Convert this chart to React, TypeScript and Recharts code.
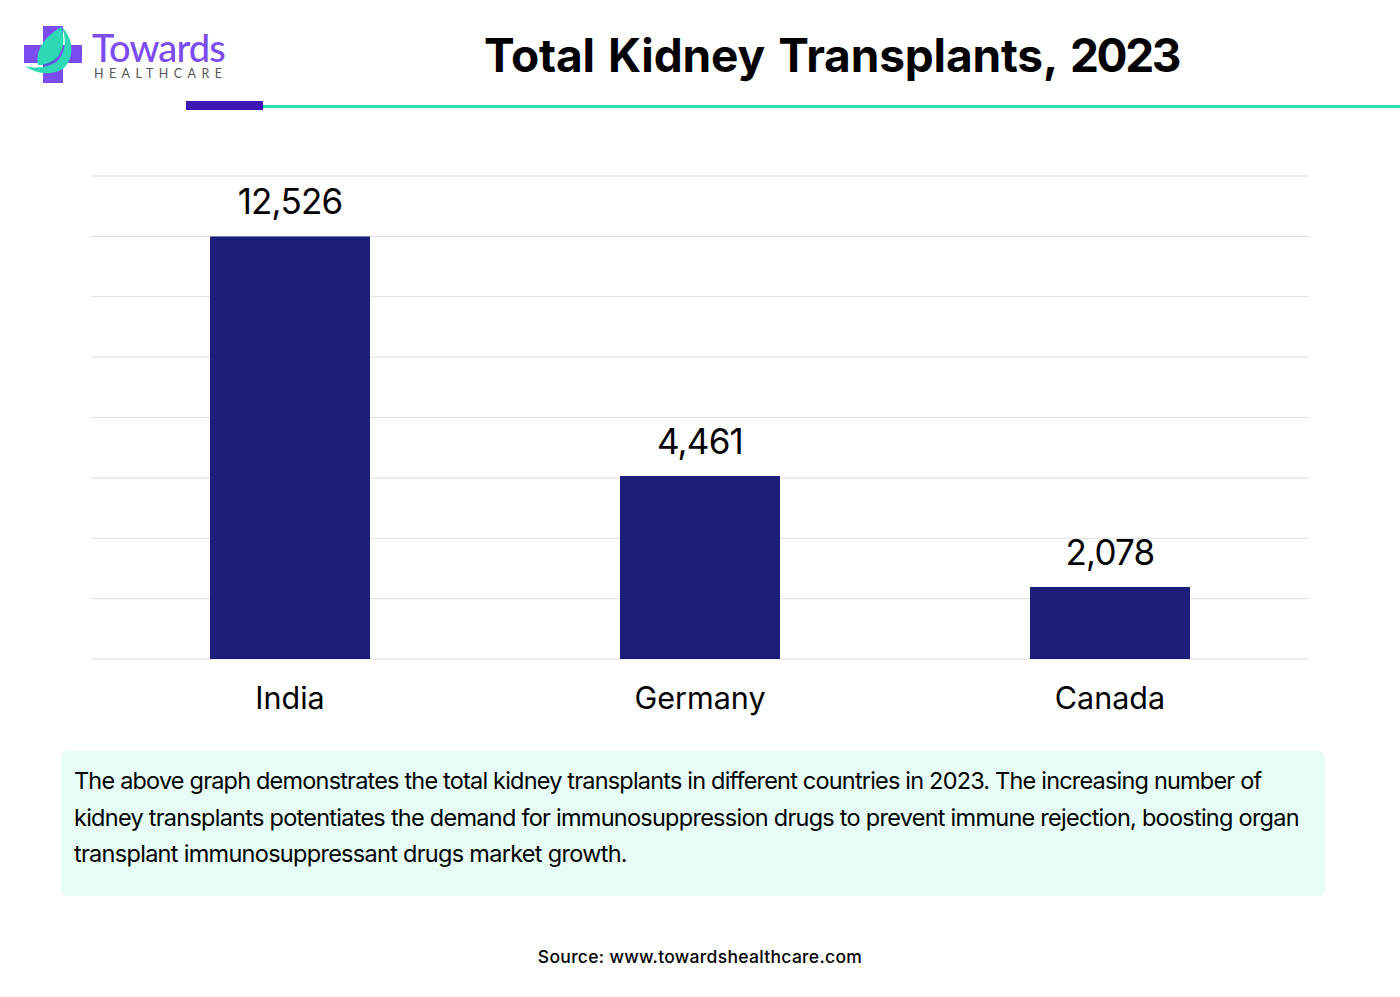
import React from "react";
import { Bar, BarChart, CartesianGrid, LabelList, XAxis, YAxis } from "recharts";

const countries = ["India", "Germany", "Canada"];
// printed values on the chart
const valueLabels = ["12,526", "4,461", "2,078"];
// the drawn bars are not in proportion to the printed values, so heights are read off the gridlines
const barHeights = [14000, 6060, 2385];
const gridTicks = [0, 2000, 4000, 6000, 8000, 10000, 12000, 14000, 16000];

const data = countries.map((name, i) => ({
  name,
  height: barHeights[i],
  label: valueLabels[i],
}));

const noteLines = [
  "The above graph demonstrates the total kidney transplants in different countries in 2023. The increasing number of",
  "kidney transplants potentiates the demand for immunosuppression drugs to prevent immune rejection, boosting organ",
  "transplant immunosuppressant drugs market growth.",
];
const noteSpacing = [-0.81, -0.74, -0.71];

const font = "Inter, Roboto, sans-serif";

function Logo() {
  return (
    <svg width={240} height={80} style={{ position: "absolute", left: 0, top: 10 }}>
      <path d="M43 16h20v19h19v18H63v20H43V53H24V35h19z" fill="#7B4DF0" />
      <path d="M62 17c12 12 12 30 3 40-9 8-26 9-40 -1 10 3 28 2 35-8 6-9 6-20 2-31z" fill="#2FD9B5" />
      <path d="M61 17c4 11 3 22-3 30-5 6-12 8-20 8-3-14 6-28 23-38z" fill="#2FD9B5" />
      <path d="M61 37c0 8-6 15-20 18 10 1 17-3 20-18z" fill="#3F6FC0" />
      <text x={92} y={52} fontFamily="Lato, sans-serif" fontWeight={500} fontSize={38} letterSpacing={-0.9} fill="#7B4DF0">
        Towards
      </text>
      <text x={94} y={68} fontFamily="Lato, sans-serif" fontSize={12.5} letterSpacing={5.4} fill="#555">
        HEALTHCARE
      </text>
    </svg>
  );
}

export default function App() {
  return (
    <div
      style={{
        position: "absolute",
        left: 0,
        top: 0,
        width: 1400,
        height: 997,
        background: "#fff",
        fontFamily: font,
        overflow: "hidden",
      }}
    >
      <Logo />
      <div
        style={{
          position: "absolute",
          left: 484,
          top: 27,
          fontSize: 46,
          fontWeight: 700,
          letterSpacing: -0.15,
          wordSpacing: 2.5,
          color: "#000",
          whiteSpace: "nowrap",
        }}
      >
        Total Kidney Transplants, <span style={{ letterSpacing: -2.4 }}>2023</span>
      </div>
      <div style={{ position: "absolute", left: 186, top: 105, width: 1214, height: 3, background: "#2BDDB0" }} />
      <div style={{ position: "absolute", left: 186, top: 101, width: 77, height: 9, background: "#3F17B5" }} />

      <div style={{ position: "absolute", left: 0, top: 0 }}>
        <BarChart
          width={1400}
          height={730}
          data={data}
          margin={{ top: 176, right: 91, bottom: 41, left: 91 }}
        >
          <CartesianGrid vertical={false} stroke="#DDDDDD" strokeWidth={1} />
          <XAxis
            dataKey="name"
            padding={{ left: -6, right: -6 }}
            axisLine={false}
            tickLine={false}
            tickMargin={22}
            tick={{ fill: "#000", fontSize: 30.5, fontFamily: font }}
          />
          <YAxis hide domain={[0, 16000]} ticks={gridTicks} />
          <Bar dataKey="height" barSize={160} fill="#1C1E7A" isAnimationActive={false}>
            <LabelList
              dataKey="label"
              position="top"
              offset={22}
              fill="#000"
              fontSize={35}
              letterSpacing={-0.8}
              fontFamily={font}
            />
          </Bar>
        </BarChart>
      </div>

      <div
        style={{
          position: "absolute",
          left: 61,
          top: 751,
          width: 1264,
          height: 145,
          boxSizing: "border-box",
          padding: "12px 13px",
          background: "#E6FDF5",
          borderRadius: 6,
          fontSize: 23.5,
          lineHeight: "36.5px",
          color: "#000",
          whiteSpace: "nowrap",
        }}
      >
        {noteLines.map((line, i) => (
          <div key={line} style={{ letterSpacing: noteSpacing[i] }}>
            {line}
          </div>
        ))}
      </div>
      <div
        style={{
          position: "absolute",
          left: 0,
          width: 1400,
          top: 946,
          textAlign: "center",
          fontSize: 17.5,
          fontWeight: 500,
          letterSpacing: 0.3,
          color: "#000",
        }}
      >
        Source: www.towardshealthcare.com
      </div>
    </div>
  );
}
